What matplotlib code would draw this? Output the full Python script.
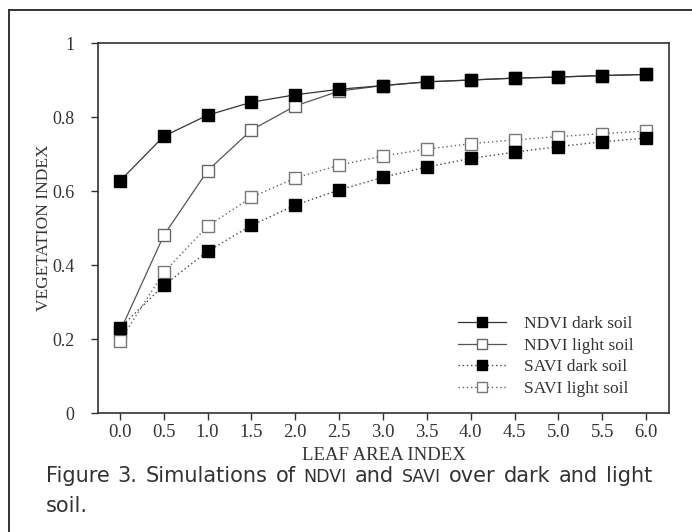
import matplotlib
matplotlib.use("Agg")
import matplotlib.pyplot as plt
from matplotlib.lines import Line2D

# leaf area index values
lai = [0.0, 0.5, 1.0, 1.5, 2.0, 2.5, 3.0, 3.5, 4.0, 4.5, 5.0, 5.5, 6.0]

ndvi_dark = [0.627, 0.748, 0.805, 0.840, 0.860, 0.875, 0.885, 0.895, 0.900, 0.905, 0.908, 0.912, 0.915]
ndvi_light = [0.220, 0.480, 0.655, 0.765, 0.830, 0.870, 0.885, 0.895, 0.900, 0.905, 0.908, 0.912, 0.915]
savi_dark = [0.230, 0.345, 0.437, 0.507, 0.562, 0.603, 0.637, 0.665, 0.688, 0.705, 0.720, 0.733, 0.743]
savi_light = [0.195, 0.380, 0.505, 0.583, 0.635, 0.670, 0.695, 0.713, 0.728, 0.738, 0.747, 0.755, 0.762]

xticks = lai
xticklabels = ["%.1f" % v for v in lai]
yticks = [0, 0.2, 0.4, 0.6, 0.8, 1]
yticklabels = ["0", "0.2", "0.4", "0.6", "0.8", "1"]

serif = "Liberation Serif"
ink = "#333333"

fig = plt.figure(figsize=(6.92, 5.32), dpi=100)
ax = fig.add_axes([98/692, 1 - 413/532, (669-98)/692, (413-43)/532])

ax.plot(lai, ndvi_dark, color=ink, lw=0.9, ls="-", marker="s", ms=8,
        mfc="black", mec="black", label="NDVI dark soil", zorder=4)
ax.plot(lai, ndvi_light, color="#555555", lw=0.9, ls="-", marker="s", ms=8,
        mfc="white", mec="#666666", label="NDVI light soil", zorder=3)
ax.plot(lai, savi_dark, color="#444444", lw=1.0, ls=(0, (1, 2)), marker="s", ms=8,
        mfc="black", mec="black", label="SAVI dark soil", zorder=4)
ax.plot(lai, savi_light, color="#666666", lw=1.0, ls=(0, (1, 2)), marker="s", ms=8,
        mfc="white", mec="#777777", label="SAVI light soil", zorder=3)

ax.set_xlim(-0.25, 6.26)
ax.set_ylim(0, 1)
ax.set_xticks(xticks)
ax.set_xticklabels(xticklabels, fontfamily=serif, fontsize=13.5, color=ink)
ax.set_yticks(yticks)
ax.set_yticklabels(yticklabels, fontfamily=serif, fontsize=13, color=ink)
ax.tick_params(direction="out", length=5, width=1, color=ink)
ax.tick_params(axis="x", pad=3)
ax.tick_params(axis="y", pad=12)
for s in ax.spines.values():
    s.set_color(ink)
    s.set_linewidth(1.2)

ax.set_xlabel("LEAF AREA INDEX", fontfamily=serif, fontsize=13.5, color=ink, labelpad=4)
ax.set_ylabel("VEGETATION INDEX", fontfamily=serif, fontsize=12.5, color=ink, va="center")
ax.yaxis.set_label_coords(-54/571, 0.5)

leg = ax.legend(loc="lower right", bbox_to_anchor=(0.965, 0.0), frameon=False,
                prop={"family": serif, "size": 12.5}, handlelength=2.8,
                labelspacing=0.33, handletextpad=1.0, markerscale=0.9)
for t in leg.get_texts():
    t.set_color(ink)

# outer frame of the printed figure
fig.add_artist(Line2D([9/692, 9/692], [1 - 10/532, 0], transform=fig.transFigure,
                      color=ink, lw=1.4))
fig.add_artist(Line2D([9/692, 1.0], [1 - 10/532, 1 - 10/532], transform=fig.transFigure,
                      color=ink, lw=1.4))

# caption, acronyms in small caps, words spread to the printed line width
cap_font = "DejaVu Sans"
renderer = fig.canvas.get_renderer()
words = [("Figure", 15), ("3.", 15), ("Simulations", 15), ("of", 15), ("NDVI", 12.5),
         ("and", 15), ("SAVI", 12.5), ("over", 15), ("dark", 15), ("and", 15), ("light", 15)]
left, right = 46, 652
y = 1 - 482/532
texts = []
total = 0
for w, size in words:
    t = fig.text(0, y, w, fontfamily=cap_font, fontsize=size, color=ink,
                 va="baseline", ha="left")
    bb = t.get_window_extent(renderer)
    texts.append((t, bb.width))
    total += bb.width
gap = (right - left - total) / (len(words) - 1)
x = left
for t, wdt in texts:
    t.set_x(x/692)
    x += wdt + gap
fig.text(left/692, 1 - 512/532, "soil.", fontfamily=cap_font, fontsize=15, color=ink,
         va="baseline", ha="left")

fig.savefig("out.png", dpi=100)
